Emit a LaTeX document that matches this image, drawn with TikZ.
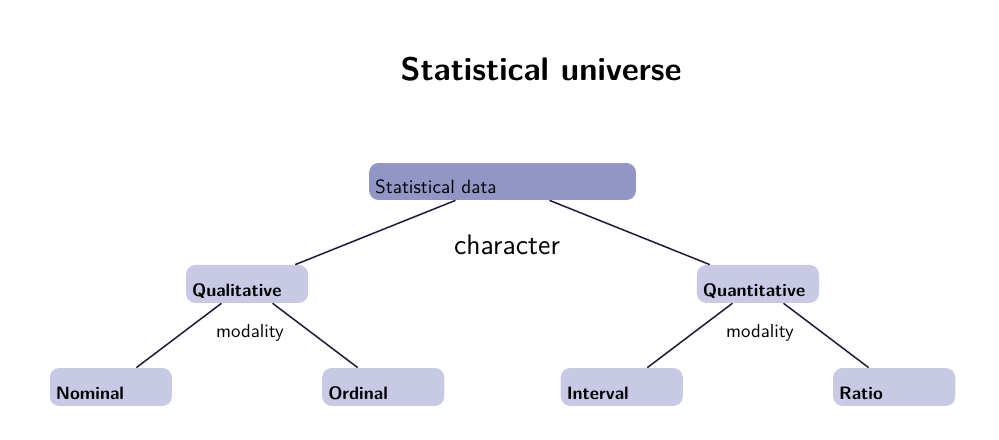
\documentclass[tikz,border=0pt]{standalone}
\usepackage{xcolor}
\usepackage{tikz}

\definecolor{rootblue}{RGB}{146,150,199}
\definecolor{leafblue}{RGB}{200,201,229}
\definecolor{edgenavy}{RGB}{28,28,58}

\begin{document}
\begin{tikzpicture}[
    x=0.53pt, y=-0.53pt,
    every node/.style={font=\sffamily},
    rootbox/.style={fill=rootblue, rounded corners=5pt, text width=135pt, align=left, inner sep=3.2pt, text height=13.2pt, text depth=0pt, font=\sffamily\fontsize{10.2}{12}\selectfont}, % Label sits low in the box
    leafbox/.style={fill=leafblue, rounded corners=5pt, text width=58.3pt, align=left, inner sep=3.2pt, text height=13.7pt, text depth=0pt, font=\sffamily\bfseries\fontsize{9.5}{11}\selectfont},
    edge from parent/.style={draw=edgenavy, line width=0.8pt},
    level 1/.style={sibling distance=270.8pt, level distance=54.3pt}, % Qualitative / Quantitative
    level 2/.style={sibling distance=144.4pt, level distance=54.6pt}  % Four scales
]
\useasboundingbox (0,0) rectangle (999,439);
\node[anchor=base, font=\sffamily\LARGE\bfseries] (title) at (541,80) {Statistical universe};
\node[rootbox] (data) at (502.5,181.5) {Statistical data}
    child {node[leafbox] (qual) {Qualitative}
        child {node[leafbox] (nominal) {Nominal}}
        child {node[leafbox] (ordinal) {Ordinal}}
    }
    child {node[leafbox] (quant) {Quantitative}
        child {node[leafbox] (interval) {Interval}}
        child {node[leafbox] (ratio) {Ratio}}
    }; % End of tree
\node[font=\sffamily\fontsize{15}{18}\selectfont] (character) at (507,245) {character};
\node[font=\sffamily] (modqual) at (250,333) {modality};
\node[font=\sffamily] (modquant) at (760,333) {modality};
\end{tikzpicture}
\end{document}
